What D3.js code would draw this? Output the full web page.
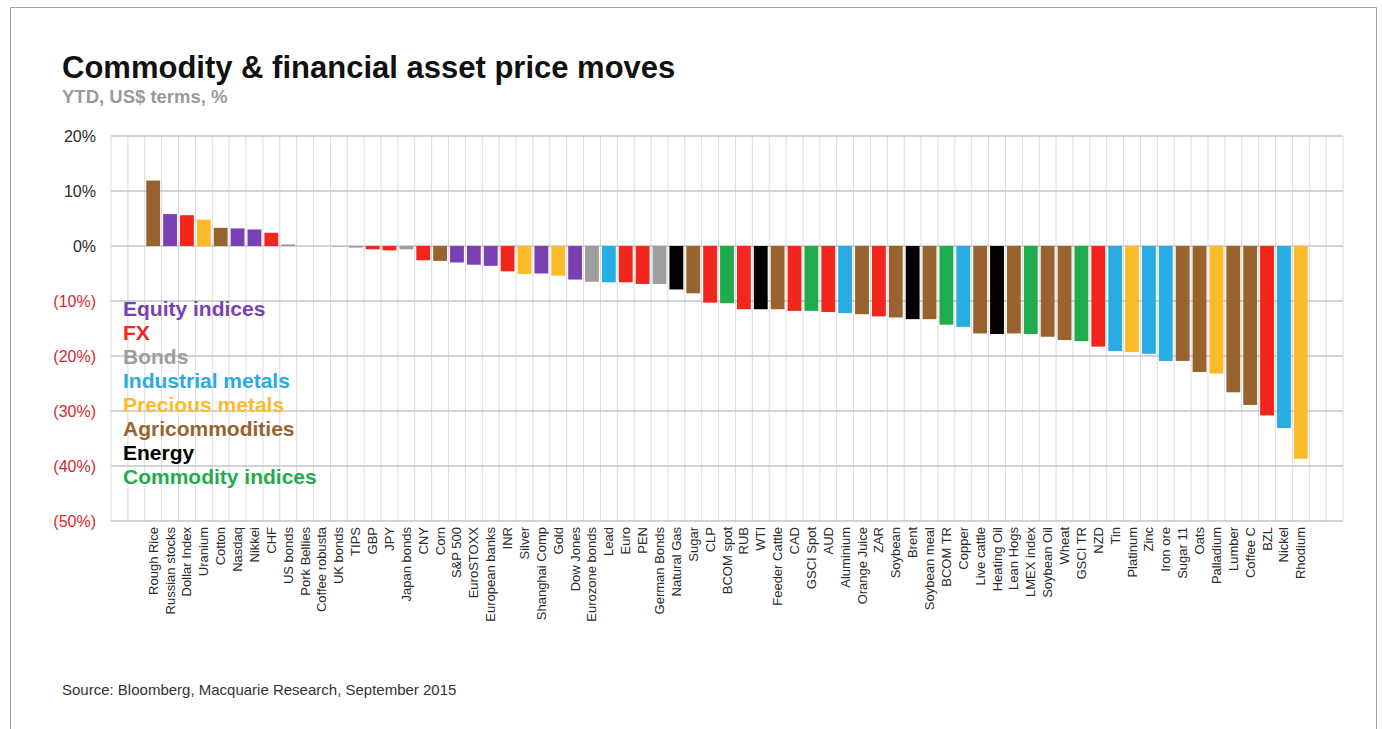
<html>
  <head>
    <meta charset="UTF-8">
    <script src="https://d3js.org/d3.v7.min.js"></script>
    <style type="text/css">
    body {
      margin: 0;
      background: #fff;
      font-family: 'Liberation Sans', Arial, sans-serif;
    }
    </style>
  </head>
  <body>
  </body>
  <script>
    // values, YTD % in US$ terms
    var names = ["Rough Rice", "Russian stocks", "Dollar Index", "Uranium", "Cotton", "Nasdaq", "Nikkei", "CHF",
      "US bonds", "Pork Bellies", "Coffee robusta", "UK bonds", "TIPS", "GBP", "JPY", "Japan bonds", "CNY", "Corn",
      "S&P 500", "EuroSTOXX", "European banks", "INR", "Silver", "Shanghai Comp", "Gold", "Dow Jones",
      "Eurozone bonds", "Lead", "Euro", "PEN", "German Bonds", "Natural Gas", "Sugar", "CLP", "BCOM spot", "RUB",
      "WTI", "Feeder Cattle", "CAD", "GSCI Spot", "AUD", "Aluminium", "Orange Juice", "ZAR", "Soybean", "Brent",
      "Soybean meal", "BCOM TR", "Copper", "Live cattle", "Heating Oil", "Lean Hogs", "LMEX index", "Soybean Oil",
      "Wheat", "GSCI TR", "NZD", "Tin", "Platinum", "Zinc", "Iron ore", "Sugar 11", "Oats", "Palladium", "Lumber",
      "Coffee C", "BZL", "Nickel", "Rhodium"];

    var values = [11.9, 5.8, 5.6, 4.8, 3.3, 3.2, 3.0, 2.4,
      0.3, 0, 0, -0.1, -0.3, -0.6, -0.8, -0.6, -2.6, -2.7,
      -3.0, -3.4, -3.6, -4.6, -5.1, -5.0, -5.4, -6.1,
      -6.5, -6.6, -6.6, -6.9, -6.9, -7.9, -8.6, -10.3, -10.4, -11.5,
      -11.5, -11.5, -11.8, -11.8, -12.0, -12.2, -12.4, -12.8, -13.0, -13.3,
      -13.3, -14.3, -14.7, -15.9, -16.0, -15.9, -16.0, -16.5,
      -17.1, -17.3, -18.3, -19.1, -19.3, -19.6, -20.9, -20.9, -22.9, -23.2, -26.6,
      -28.9, -30.8, -33.1, -38.7];

    // asset class of each bar
    var groups = ["agri", "equity", "fx", "precious", "agri", "equity", "equity", "fx",
      "bonds", "agri", "agri", "bonds", "bonds", "fx", "fx", "bonds", "fx", "agri",
      "equity", "equity", "equity", "fx", "precious", "equity", "precious", "equity",
      "bonds", "industrial", "fx", "fx", "bonds", "energy", "agri", "fx", "comidx", "fx",
      "energy", "agri", "fx", "comidx", "fx", "industrial", "agri", "fx", "agri", "energy",
      "agri", "comidx", "industrial", "agri", "energy", "agri", "comidx", "agri",
      "agri", "comidx", "fx", "industrial", "precious", "industrial", "industrial", "agri", "agri", "precious", "agri",
      "agri", "fx", "industrial", "precious"];

    var legendKeys = ["equity", "fx", "bonds", "industrial", "precious", "agri", "energy", "comidx"];
    var legendLabels = ["Equity indices", "FX", "Bonds", "Industrial metals", "Precious metals",
      "Agricommodities", "Energy", "Commodity indices"];
    var legendColors = ["#7b3fb4", "#f2261c", "#9e9e9e", "#27ace3", "#fcbc2a", "#98632f", "#000000", "#1fac4e"];

    var yTicks = [20, 10, 0, -10, -20, -30, -40, -50];

    var data = names.map(function(n, i) {
      return {name: n, value: values[i], group: groups[i]};
    });

    var W = 1382, H = 729;
    var svg = d3.select("body").append("svg")
      .attr("width", W)
      .attr("height", H);

    // outer frame of the picture
    svg.append("path")
      .attr("d", "M10.5," + H + "V7.5H1376.5V" + H)
      .attr("fill", "none")
      .attr("stroke", "#a0a0a0")
      .attr("stroke-width", 1);

    var color = d3.scaleOrdinal().domain(legendKeys).range(legendColors);

    var x = d3.scaleBand()
      .domain(names)
      .range([111, 1343])
      .paddingInner(0)
      .paddingOuter(2);

    var y = d3.scaleLinear()
      .domain([-50, 20])
      .range([521, 136]);

    // vertical grid, one line per column (incl. empty outer columns)
    var step = x.step();
    var cols = d3.range(names.length + 5).map(function(i) { return 111 + i * step; });
    svg.append("g")
      .selectAll("line")
      .data(cols)
      .join("line")
        .attr("x1", function(d) { return d; })
        .attr("x2", function(d) { return d; })
        .attr("y1", y(20))
        .attr("y2", y(-50))
        .attr("stroke", "#dcdcdc")
        .attr("stroke-width", 1);

    // horizontal grid
    svg.append("g")
      .selectAll("line")
      .data(yTicks)
      .join("line")
        .attr("x1", 111)
        .attr("x2", 1343)
        .attr("y1", function(d) { return y(d); })
        .attr("y2", function(d) { return y(d); })
        .attr("stroke", "#c4c4c4")
        .attr("stroke-width", 1.6);

    // y axis labels
    var yAxis = svg.append("g")
      .attr("transform", "translate(100,0)")
      .call(d3.axisLeft(y).tickValues(yTicks).tickSize(0).tickPadding(4)
        .tickFormat(function(d) { return d < 0 ? "(" + (-d) + "%)" : d + "%"; }));
    yAxis.select(".domain").remove();
    yAxis.selectAll("text")
      .style("font-family", "'Liberation Sans', Arial, sans-serif")
      .style("font-size", "16px")
      .attr("fill", function(d) { return d < 0 ? "#d9262e" : "#2a2a2a"; });

    // legend (drawn over the grid)
    svg.append("g")
      .selectAll("text")
      .data(legendKeys)
      .join("text")
        .attr("x", 123)
        .attr("y", function(d, i) { return 316 + i * 24; })
        .style("font-size", "21px")
        .style("font-weight", "bold")
        .attr("fill", function(d) { return color(d); })
        .text(function(d, i) { return legendLabels[i]; });

    // bars
    var bw = step * 0.82;
    svg.append("g")
      .selectAll("rect")
      .data(data)
      .join("rect")
        .attr("x", function(d) { return x(d.name) + (step - bw) / 2; })
        .attr("width", bw)
        .attr("y", function(d) { return y(Math.max(0, d.value)); })
        .attr("height", function(d) { return Math.abs(y(d.value) - y(0)); })
        .attr("fill", function(d) { return color(d.group); });

    // category labels, rotated
    svg.append("g")
      .selectAll("text")
      .data(data)
      .join("text")
        .attr("transform", function(d) {
          return "translate(" + (x(d.name) + step / 2 + 4.5) + ",527) rotate(-90)";
        })
        .attr("text-anchor", "end")
        .style("font-size", "13px")
        .attr("fill", "#2a2a2a")
        .text(function(d) { return d.name; });

    // title
    svg.append("text")
      .attr("x", 62)
      .attr("y", 78)
      .style("font-size", "31px")
      .style("font-weight", "bold")
      .attr("fill", "#111")
      .text("Commodity & financial asset price moves");

    svg.append("text")
      .attr("x", 62)
      .attr("y", 103)
      .style("font-size", "18.5px")
      .style("font-weight", "bold")
      .attr("fill", "#9a9a9a")
      .text("YTD, US$ terms, %");

    // source
    svg.append("text")
      .attr("x", 62)
      .attr("y", 695)
      .style("font-size", "15px")
      .attr("fill", "#333")
      .text("Source: Bloomberg, Macquarie Research, September 2015");
  </script>
</html>
